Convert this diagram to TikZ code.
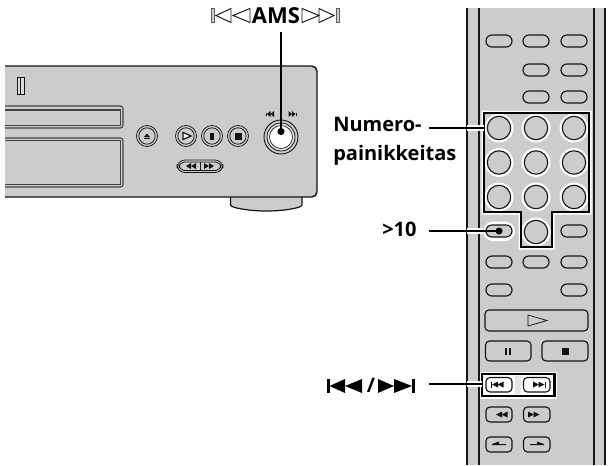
\documentclass[tikz,border=0pt]{standalone}
\usepackage{fontspec}
\setmainfont{Open Sans}
\definecolor{panel}{HTML}{CCCCCC}
\definecolor{ink}{HTML}{141414}
\tikzset{
  lbl/.style={font=\fontsize{15pt}{18pt}\selectfont\bfseries, inner sep=0pt, text=black},
  leader/.style={draw=black, line width=1.9pt},
  oval/.style={draw=ink, line width=.85pt, fill=panel, rounded corners=4.4pt},
  pad/.style={draw=ink, line width=.85pt, fill=panel, rounded corners=3pt},
  keyc/.style={draw=ink, line width=.85pt, fill=panel},
  frontb/.style={draw=ink, line width=.55pt, fill=panel}
}
\newcommand{\ovalkey}[2]{\draw[oval] (#1-13,#2-6) rectangle (#1+13,#2+6);}
\newcommand{\numkey}[2]{\fill[white] (#1,#2) circle (14.5); \draw[keyc] (#1,#2) circle (11.7);}
\newcommand{\frontkey}[2]{\draw[frontb] (#1,#2) circle (10.5); \draw[frontb] (#1,#2) circle (8.2);}
\newcommand{\tw}[4]{\fill[#4] (#1,#2) -- ++(#3,-3) -- ++(0,6) -- cycle;}
\begin{document}
\begin{tikzpicture}[x=0.75pt,y=-0.75pt]
\useasboundingbox (0,0) rectangle (608,465);
% foot
\draw[ink,line width=.9pt,fill=panel] (230.5,197) -- (230.5,205) .. controls (231,207) and (236,208) .. (245,209.5) .. controls (258,211.5) and (275,211.5) .. (288,209.5) .. controls (297,208) and (301.5,207) .. (302,205) -- (302,197);
% player body
\draw[ink,line width=1.1pt,fill=panel,rounded corners=4pt] (5,66) -- (317,66) -- (317,197) -- (5,197);
\fill[panel] (5,67) rectangle (8,196);
% slot
\draw[ink,line width=.5pt,fill=panel!70] (17.5,77.5) rectangle (24,94);
\draw[ink,line width=.4pt] (20.7,78) -- (20.7,94);
% tray
\draw[ink!80,line width=.8pt,rounded corners=2pt] (5,106) -- (123,106) -- (123,128) -- (5,128);
\draw[ink!80,line width=.8pt] (5,110) -- (120.5,110) -- (120.5,125.5) -- (5,125.5);
% display
\draw[ink!80,line width=.8pt,rounded corners=2pt] (5,138) -- (123,138) -- (123,187) -- (5,187);
\draw[ink!80,line width=.8pt] (5,140.5) -- (120.5,140.5) -- (120.5,184.5) -- (5,184.5);
% front buttons
\frontkey{147}{136}
\fill[ink] (147,133.5) -- (150,137) -- (144,137) -- cycle; \fill[ink] (144,137.8) rectangle (150,139);
\frontkey{186}{136}
\draw[ink,line width=.9pt,fill=white] (183,132.5) -- (191,136) -- (183,139.5) -- cycle;
\frontkey{212}{136}
\fill[ink] (210,132.5) rectangle (214,139.5);
\frontkey{238}{136}
\fill[ink] (234.5,132.5) rectangle (241.5,139.5);
% rw/ff pill
\draw[ink,line width=.6pt,fill=panel,rounded corners=6pt] (177,160) rectangle (223,172.5);
\draw[ink,line width=.6pt,fill=panel,rounded corners=4.5pt] (179,162) rectangle (221,170.5);
\draw[ink,line width=.5pt] (200,162) -- (200,170.5);
\tw{186}{166}{5}{ink} \tw{191}{166}{5}{ink}
\begin{scope}[xscale=-1]\tw{-214}{166}{5}{ink}\tw{-209}{166}{5}{ink}\end{scope}
% AMS dial
\draw[ink,line width=.7pt,fill=panel] (281,137) circle (17);
\draw[ink,line width=.6pt,fill=panel!50] (281,137) circle (14);
\draw[ink,line width=.5pt,fill=white] (281,137) circle (11.5);
\fill[ink] (266,112.5) rectangle (267,115.5); \tw{267}{114}{3.5}{ink}\tw{270.5}{114}{3.5}{ink}
\fill[ink] (295.5,112.5) rectangle (296.5,115.5);
\begin{scope}[xscale=-1]\tw{-295.5}{114}{3.5}{ink}\tw{-292}{114}{3.5}{ink}\end{scope}
% remote
\fill[panel] (467,8) rectangle (605,465);
\draw[ink,line width=1.2pt] (467,8) -- (467,465);
\draw[ink,line width=.8pt] (479,8) -- (479,465);
\draw[ink,line width=.8pt] (594,8) -- (594,465);
\draw[ink,line width=1.2pt] (605,8) -- (605,465);
\foreach \xx/\yy in {499/41,536/41,574/41,536/70,574/70,536/97,574/97,574/231,499/262,536/262,574/262,499/290,574/290}{\ovalkey{\xx}{\yy}}
% number block
\fill[white] (481.5,110.5) -- (591.5,110.5) -- (591.5,214.5) -- (554.5,214.5) -- (554.5,249.5) -- (518.5,249.5) -- (518.5,214.5) -- (481.5,214.5) -- cycle;
\fill[panel] (484,113) -- (589,113) -- (589,212) -- (552,212) -- (552,247) -- (521,247) -- (521,212) -- (484,212) -- cycle;
\foreach \xx in {499,536,574}{\foreach \yy in {128,162.5,197}{\numkey{\xx}{\yy}}}
\numkey{536}{232}
\draw[black,line width=1.9pt] (484,113) -- (589,113) -- (589,212) -- (552,212) -- (552,247) -- (521,247) -- (521,212) -- (484,212) -- cycle;
\coordinate (numblock) at (484,128);
% >10 key
\fill[white,rounded corners=7.5pt] (483,221.5) rectangle (515,241);
\draw[oval] (486,225) rectangle (512,237);
\coordinate (tenkey) at (499,231);
% play
\draw[pad] (485,310) rectangle (588,331);
\draw[ink,line width=.55pt] (528,315) -- (547,320.5) -- (528,326) -- cycle;
% pause stop
\draw[pad] (485.5,341) rectangle (531,361);
\fill[ink] (505,347.5) rectangle (507.3,354.5); \fill[ink] (509,347.5) rectangle (511.3,354.5);
\draw[pad] (542,341) rectangle (588,361);
\fill[ink] (561.5,347.5) rectangle (568.5,354.5);
% highlighted track keys
\fill[white] (479.5,371.5) rectangle (556.5,398.5);
\fill[panel!50] (484,376) rectangle (552,394);
\fill[white] (484,376) rectangle (515,394);
\fill[white] (521,376) rectangle (552,394);
\draw[black,line width=1.9pt] (482,374) rectangle (554.5,396);
\coordinate (trackblock) at (482,384);
\draw[pad,fill=white] (486,377.5) rectangle (512,392);
\draw[pad,fill=white] (523.5,377.5) rectangle (550,392);
\fill[ink] (491,381.5) rectangle (492,387.5); \tw{492}{384.5}{6}{ink}\tw{497.5}{384.5}{6}{ink}
\begin{scope}[xscale=-1]\tw{-544.5}{384.5}{6}{ink}\tw{-539}{384.5}{6}{ink}\end{scope}\fill[ink] (544.5,381.5) rectangle (545.5,387.5);
% lower keys
\draw[pad] (486,407) rectangle (512,422);
\tw{496}{414.5}{6}{ink}\tw{501.5}{414.5}{6}{ink}
\draw[pad] (523.5,407) rectangle (550,422);
\begin{scope}[xscale=-1]\tw{-534}{414.5}{6}{ink}\tw{-539.5}{414.5}{6}{ink}\end{scope}
\draw[pad] (486,437) rectangle (512,452);
\fill[ink] (492,444) -- (499,441.5) -- (499,444) -- (506,444) -- (506,445) -- (492,445) -- cycle;
\draw[pad] (523.5,437) rectangle (550,452);
\fill[ink] (544,444) -- (537,441.5) -- (537,444) -- (530,444) -- (530,445) -- (544,445) -- cycle;
% labels
\node[lbl,anchor=base,font=\fontsize{16.5pt}{18pt}\selectfont\bfseries] (ams) at (276,23) {AMS};
\node[lbl,anchor=base west] (num) at (333,131) {Numero-};
\node[lbl,anchor=base west] (pai) at (333,160) {painikkeitas};
\node[lbl,anchor=base west] (ten) at (382,236) {>10};
\node[lbl,anchor=base] (slash) at (371,392) {/};
% outline glyphs around AMS
\draw[ink!70,line width=.6pt,fill=panel] (211,8.5) rectangle (214,22.5);
\draw[ink,line width=.7pt] (231,8.5) -- (216,15.5) -- (231,22.5) -- cycle;
\draw[ink,line width=.7pt] (250,8.5) -- (233,15.5) -- (250,22.5) -- cycle;
\draw[ink,line width=.7pt] (302,8.5) -- (319,15.5) -- (302,22.5) -- cycle;
\draw[ink,line width=.7pt] (319,8.5) -- (334,15.5) -- (319,22.5) -- cycle;
\draw[ink!70,line width=.6pt,fill=panel] (336,8.5) rectangle (339,22.5);
% solid glyphs around slash
\fill[black] (327,379) rectangle (329.5,393);
\fill[black] (329.5,386) -- (345,379) -- (345,393) -- cycle;
\fill[black] (345,386) -- (362,379) -- (362,393) -- cycle;
\fill[black] (378,379) -- (394,386) -- (378,393) -- cycle;
\fill[black] (394,379) -- (412,386) -- (394,393) -- cycle;
\fill[black] (412,379) rectangle (415,393);
% connectors
\coordinate (amsdot) at (281,131.5);
\coordinate (amstop) at (281,32);
\coordinate (numstart) at (429,128);
\coordinate (tenstart) at (429,231);
\coordinate (trackstart) at (429,384);
\draw[leader] (amstop) -- (amsdot);
\fill[black] (amsdot) circle (3.6);
\draw[white,line width=3.8pt] (467,128) -- (numblock);
\draw[leader] (numstart) -- (numblock);
\draw[white,line width=3.8pt] (467,231) -- (483,231);
\draw[leader] (tenstart) -- (tenkey);
\fill[black] (tenkey) circle (3.5);
\draw[white,line width=3.8pt] (467,384) -- (trackblock);
\draw[leader] (trackstart) -- (trackblock);
\end{tikzpicture}
\end{document}
